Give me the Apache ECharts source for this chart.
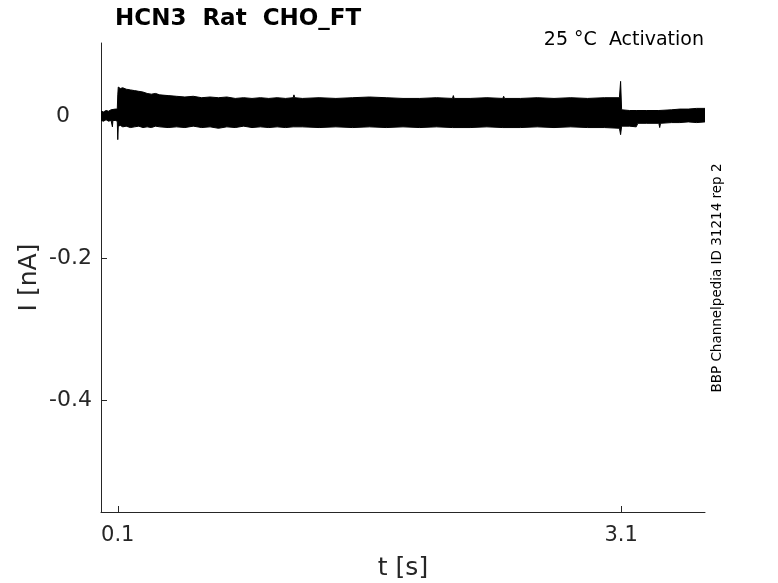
<!DOCTYPE html>
<html>
<head>
<meta charset="utf-8">
<script src="https://cdn.jsdelivr.net/npm/echarts@6/dist/echarts.min.js"></script>
<style>
  html, body { margin: 0; padding: 0; background: #fff; }
  #chart { width: 778px; height: 583px; }
</style>
</head>
<body>
<div id="chart"></div>
<script>
var times = [0.000, 0.015, 0.030, 0.045, 0.060, 0.066, 0.068, 0.071, 0.085, 0.097,
  0.100, 0.103, 0.115, 0.13, 0.15, 0.175, 0.20, 0.225, 0.25, 0.275, 0.30, 0.325,
  0.35, 0.40, 0.45, 0.50, 0.55, 0.60, 0.65, 0.70, 0.75, 0.80, 0.85, 0.90, 0.95,
  1.00, 1.05, 1.10, 1.145, 1.15, 1.155, 1.20, 1.30, 1.40, 1.50, 1.60, 1.70,
  1.80, 1.90, 2.00, 2.095, 2.10, 2.105, 2.20, 2.30, 2.395, 2.40, 2.405, 2.50,
  2.60, 2.70, 2.80, 2.90, 3.00, 3.09, 3.097, 3.103, 3.15, 3.19, 3.20, 3.25,
  3.325, 3.33, 3.335, 3.40, 3.45, 3.50, 3.55, 3.60]
var upper = [0.007, 0.006, 0.008, 0.007, 0.009, 0.008, 0.008, 0.008, 0.010, 0.010,
  0.030, 0.041, 0.039, 0.040, 0.038, 0.037, 0.036, 0.035, 0.034, 0.032, 0.031, 0.032,
  0.030, 0.029, 0.028, 0.027, 0.028, 0.026, 0.027, 0.026, 0.027, 0.025, 0.026, 0.025, 0.026,
  0.025, 0.026, 0.025, 0.026, 0.030, 0.026, 0.025, 0.026, 0.025, 0.026, 0.027, 0.026,
  0.025, 0.025, 0.026, 0.025, 0.029, 0.025, 0.025, 0.026, 0.025, 0.028, 0.025, 0.025,
  0.026, 0.025, 0.026, 0.025, 0.026, 0.026, 0.049, 0.009, 0.008, 0.008, 0.007, 0.008,
  0.008, 0.008, 0.009, 0.009, 0.010, 0.010, 0.011, 0.011]
var lower = [-0.006, -0.007, -0.005, -0.007, -0.006, -0.006, -0.015, -0.006, -0.006, -0.007,
  -0.033, -0.014, -0.013, -0.015, -0.014, -0.016, -0.015, -0.014, -0.016, -0.015, -0.016, -0.014,
  -0.015, -0.016, -0.015, -0.016, -0.014, -0.016, -0.015, -0.017, -0.015, -0.016, -0.014, -0.016, -0.015,
  -0.016, -0.015, -0.016, -0.015, -0.015, -0.016, -0.015, -0.016, -0.015, -0.016, -0.015, -0.016,
  -0.015, -0.016, -0.015, -0.016, -0.016, -0.015, -0.016, -0.015, -0.016, -0.016, -0.015, -0.016,
  -0.015, -0.016, -0.015, -0.016, -0.016, -0.017, -0.026, -0.014, -0.014, -0.015, -0.010, -0.010,
  -0.010, -0.016, -0.010, -0.009, -0.009, -0.008, -0.009, -0.008]

var xTicks = [0.1, 3.1]
var yTicks = [-0.4, -0.2, 0]

var titleText = 'HCN3  Rat  CHO_FT'
var condText = '25 \u00b0C  Activation'
var sideText = 'BBP Channelpedia ID 31214 rep 2'

var font = 'DejaVu Sans'
var ink = '#262626'

function pairs (vals) {
  return times.map(function (t, i) { return [t, vals[i]] })
}

var chart = echarts.init(document.getElementById('chart'))

// each half of the band is filled to a point just past zero so the halves overlap
var bandSeries = function (vals, origin) {
  return {
    type: 'line',
    data: pairs(vals),
    showSymbol: false,
    animation: false,
    lineStyle: { color: '#000', width: 1 },
    areaStyle: { color: '#000', opacity: 1, origin: origin },
    z: 1
  }
}

chart.setOption({
  backgroundColor: '#fff',
  animation: false,
  title: {
    text: titleText,
    left: 110,
    top: 3,
    textStyle: { fontFamily: font, fontWeight: 'bold', fontSize: 23, color: '#000' }
  },
  grid: { left: 101, right: 73, top: 43, bottom: 71, outerBoundsMode: 'none' },
  xAxis: {
    type: 'value',
    min: 0,
    max: 3.6,
    name: 't [s]',
    nameLocation: 'middle',
    nameGap: 44,
    nameMoveOverlap: false,
    nameTextStyle: { fontFamily: font, fontSize: 25, color: ink },
    axisLine: { show: true, onZero: false, lineStyle: { color: ink, width: 1 } },
    axisTick: { show: true, inside: true, length: 6, customValues: xTicks, lineStyle: { color: ink } },
    axisLabel: { show: true, customValues: xTicks, margin: 13, fontFamily: font, fontSize: 21, color: ink },
    splitLine: { show: false }
  },
  yAxis: {
    type: 'value',
    min: -0.557,
    max: 0.103,
    name: 'I [nA]',
    nameLocation: 'middle',
    nameGap: 59,
    nameMoveOverlap: false,
    nameTextStyle: { fontFamily: font, fontSize: 25, color: ink },
    axisLine: { show: true, onZero: false, lineStyle: { color: ink, width: 1 } },
    axisTick: { show: true, inside: true, length: 6, customValues: yTicks, lineStyle: { color: ink } },
    axisLabel: {
      show: true,
      customValues: yTicks,
      margin: 9,
      fontFamily: font,
      fontSize: 22,
      color: ink,
      formatter: function (v) { return v === 0 ? '{z|0}' : String(v) },
      rich: { z: { fontFamily: font, fontSize: 22, color: ink, padding: [0, 22, 0, 0] } }
    },
    splitLine: { show: false }
  },
  graphic: [
    {
      type: 'text',
      right: 74,
      top: 31,
      style: { text: condText, fontFamily: font, fontSize: 19, fill: '#000', textAlign: 'right' }
    },
    {
      type: 'text',
      x: 717,
      y: 278,
      rotation: Math.PI / 2,
      style: {
        text: sideText,
        fontFamily: font,
        fontSize: 13.5,
        fill: '#000',
        textAlign: 'center',
        textVerticalAlign: 'middle'
      }
    }
  ],
  series: [bandSeries(upper, -0.003), bandSeries(lower, 0.003)]
})
</script>
</body>
</html>
